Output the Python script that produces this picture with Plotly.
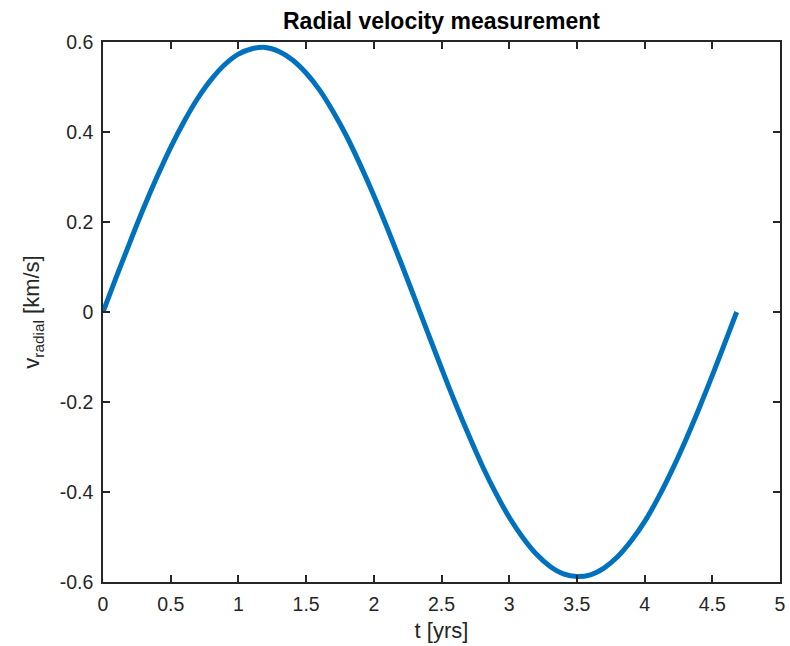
import plotly.graph_objects as go

# time samples [yrs] and radial velocity [km/s]
t_yrs = [0.0, 0.1, 0.2, 0.3, 0.4, 0.5, 0.6, 0.7, 0.8, 0.9,
         1.0, 1.1, 1.2, 1.3, 1.4, 1.5, 1.6, 1.7, 1.8, 1.9,
         2.0, 2.1, 2.2, 2.3, 2.4, 2.5, 2.6, 2.7, 2.8, 2.9,
         3.0, 3.1, 3.2, 3.3, 3.4, 3.5, 3.6, 3.7, 3.8, 3.9,
         4.0, 4.1, 4.2, 4.3, 4.4, 4.5, 4.6, 4.68]
v_radial = [0.0, 0.079, 0.156, 0.231, 0.301, 0.366, 0.424, 0.475, 0.517, 0.550,
            0.573, 0.585, 0.588, 0.579, 0.560, 0.531, 0.493, 0.445, 0.390, 0.327,
            0.259, 0.186, 0.110, 0.032, -0.047, -0.125, -0.201, -0.273, -0.341, -0.402,
            -0.456, -0.501, -0.538, -0.565, -0.582, -0.588, -0.584, -0.569, -0.544, -0.509,
            -0.466, -0.413, -0.353, -0.287, -0.216, -0.141, -0.063, 0.0]

x_ticks = [0, 0.5, 1, 1.5, 2, 2.5, 3, 3.5, 4, 4.5, 5]
x_tick_text = ["0", "0.5", "1", "1.5", "2", "2.5", "3", "3.5", "4", "4.5", "5"]
y_ticks = [-0.6, -0.4, -0.2, 0, 0.2, 0.4, 0.6]
y_tick_text = ["-0.6", "-0.4", "-0.2", "0", "0.2", "0.4", "0.6"]

FONT = "Liberation Sans, Arial, sans-serif"
AX = "#262626"

fig = go.Figure()
fig.add_trace(go.Scatter(x=t_yrs, y=v_radial, mode="lines",
                         line=dict(color="#0072BD", width=5, shape="spline"),
                         showlegend=False, hoverinfo="skip"))

axis_common = dict(showgrid=False, zeroline=False, showline=True, mirror="ticks",
                   linecolor=AX, linewidth=1.5, ticks="inside", ticklen=7,
                   tickwidth=1.5, tickcolor=AX, ticklabelstandoff=4,
                   tickfont=dict(family=FONT, size=19.5, color=AX))

fig.update_layout(
    width=790, height=646,
    paper_bgcolor="white", plot_bgcolor="white",
    margin=dict(l=103, r=4, t=42, b=64),
    font=dict(family=FONT, color=AX),
    title=dict(text="<b>Radial velocity measurement</b>", x=0.5, xref="paper",
               y=1, yref="paper", yanchor="bottom", pad=dict(b=13),
               font=dict(family=FONT, size=23, color="black")),
    xaxis=dict(range=[0, 5], tickvals=x_ticks, ticktext=x_tick_text,
               title=dict(text="t [yrs]", font=dict(family=FONT, size=22, color=AX),
                          standoff=8),
               **axis_common),
    yaxis=dict(range=[-0.6, 0.6], tickvals=y_ticks, ticktext=y_tick_text,
               title=dict(text="v<sub>radial</sub> [km/s]",
                          font=dict(family=FONT, size=22, color=AX), standoff=14),
               **axis_common),
)

fig.write_html("out.html", config={"displayModeBar": False},
               post_script="document.body.style.margin='0';document.body.style.padding='0';")
